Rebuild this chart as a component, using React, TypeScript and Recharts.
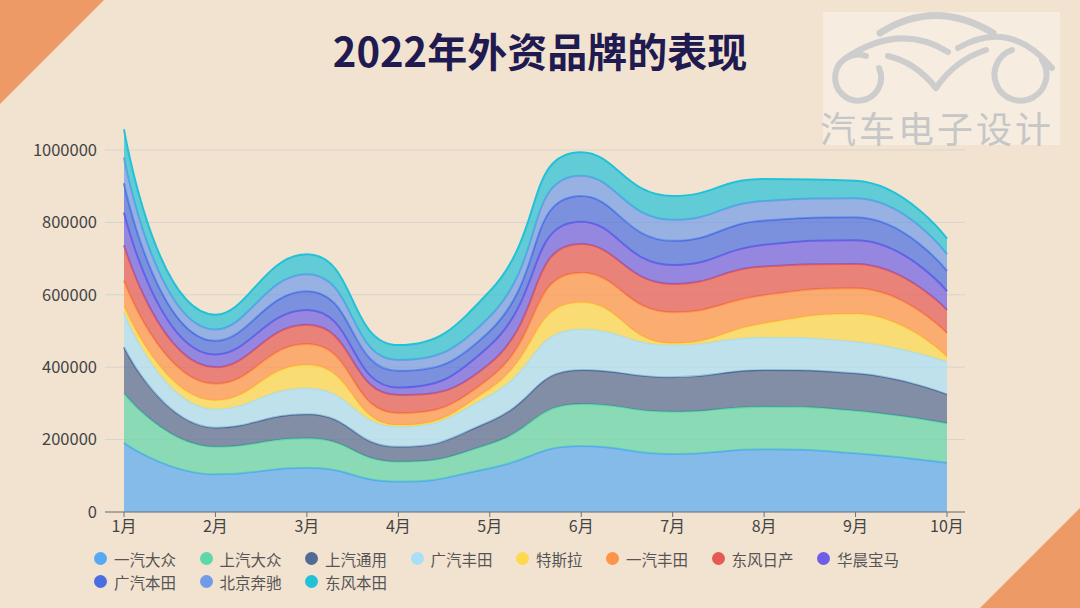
import React from 'react';
import { AreaChart, Area, XAxis, YAxis, CartesianGrid } from 'recharts';

const months = ['1月', '2月', '3月', '4月', '5月', '6月', '7月', '8月', '9月', '10月'];
const seriesNames = ['一汽大众', '上汽大众', '上汽通用', '广汽丰田', '特斯拉', '一汽丰田', '东风日产', '华晨宝马', '广汽本田', '北京奔驰', '东风本田'];
const seriesColors = ['#56a9f2', '#5ed7a9', '#536a94', '#a9dff8', '#fdd94e', '#fd9448', '#e65a55', '#6e5ee6', '#4a6ee2', '#6f9be9', '#23c1d8'];

const faw_vw = [191000, 104000, 122000, 84000, 121000, 182000, 160000, 173000, 162000, 136000];
const saic_vw = [137000, 76000, 82000, 55000, 67000, 116000, 117000, 118000, 118000, 109000];
const saic_gm = [127000, 53000, 66000, 41000, 62000, 94000, 95000, 101000, 103000, 80000];
const gac_toyota = [96000, 51000, 72000, 56000, 72000, 113000, 89000, 90000, 87000, 90000];
const tesla = [18000, 24000, 64000, 4000, 18000, 74000, 5000, 39000, 77000, 14000];
const faw_toyota = [70000, 46000, 58000, 33000, 30000, 82000, 86000, 78000, 71000, 65000];
const df_nissan = [98000, 46000, 53000, 50000, 40000, 79000, 78000, 79000, 67000, 64000];
const bmw_brilliance = [90000, 35000, 41000, 21000, 50000, 62000, 52000, 60000, 66000, 52000];
const gac_honda = [81000, 38000, 52000, 46000, 40000, 71000, 67000, 67000, 63000, 56000];
const beijing_benz = [71000, 31000, 47000, 30000, 40000, 56000, 58000, 54000, 53000, 46000];
const df_honda = [78000, 41000, 55000, 41000, 70000, 65000, 66000, 61000, 48000, 43000];

const seriesValues = [faw_vw, saic_vw, saic_gm, gac_toyota, tesla, faw_toyota, df_nissan, bmw_brilliance, gac_honda, beijing_benz, df_honda];
const yTicks = [0, 200000, 400000, 600000, 800000, 1000000];

const data = months.map((m, i) => {
  const row: Record<string, any> = { month: m };
  seriesNames.forEach((n, k) => {
    row[n] = seriesValues[k][i];
  });
  return row;
});

const SMOOTH = 0.5;
function echartsSmooth(context: any) {
  let pts: number[][] = [];
  let line: any;
  const draw = () => {
    const n = pts.length;
    if (!n) return;
    const x0 = pts[0][0];
    const y0 = pts[0][1];
    if (line) context.lineTo(x0, y0);
    else context.moveTo(x0, y0);
    let cpx0 = x0, cpy0 = y0, prevX = x0, prevY = y0;
    for (let k = 1; k < n; k++) {
      const x = pts[k][0];
      const y = pts[k][1];
      let cpx1 = x, cpy1 = y, nextCpx0 = x, nextCpy0 = y;
      if (k + 1 < n) {
        const nextX = pts[k + 1][0];
        const nextY = pts[k + 1][1];
        let vx = nextX - prevX;
        let vy = nextY - prevY;
        const lenPrev = Math.hypot(x - prevX, y - prevY);
        const lenNext = Math.hypot(nextX - x, nextY - y);
        const ratio = lenNext / (lenNext + lenPrev);
        nextCpx0 = x + vx * SMOOTH * ratio;
        nextCpy0 = y + vy * SMOOTH * ratio;
        nextCpx0 = Math.min(nextCpx0, Math.max(nextX, x));
        nextCpy0 = Math.min(nextCpy0, Math.max(nextY, y));
        nextCpx0 = Math.max(nextCpx0, Math.min(nextX, x));
        nextCpy0 = Math.max(nextCpy0, Math.min(nextY, y));
        vx = nextCpx0 - x;
        vy = nextCpy0 - y;
        cpx1 = x - (vx * lenPrev) / lenNext;
        cpy1 = y - (vy * lenPrev) / lenNext;
        cpx1 = Math.min(cpx1, Math.max(prevX, x));
        cpy1 = Math.min(cpy1, Math.max(prevY, y));
        cpx1 = Math.max(cpx1, Math.min(prevX, x));
        cpy1 = Math.max(cpy1, Math.min(prevY, y));
        vx = x - cpx1;
        vy = y - cpy1;
        nextCpx0 = x + (vx * lenNext) / lenPrev;
        nextCpy0 = y + (vy * lenNext) / lenPrev;
      }
      context.bezierCurveTo(cpx0, cpy0, cpx1, cpy1, x, y);
      cpx0 = nextCpx0;
      cpy0 = nextCpy0;
      prevX = x;
      prevY = y;
    }
  };
  return {
    areaStart() { line = 0; },
    areaEnd() { line = NaN; },
    lineStart() { pts = []; },
    point(x: number, y: number) { pts.push([+x, +y]); },
    lineEnd() {
      draw();
      if (line || (line !== 0 && pts.length === 1)) context.closePath();
      line = 1 - line;
    },
  };
}

const FONT = '"Noto Sans CJK SC", "Noto Sans", sans-serif';

function Decorations() {
  const g = '#cdcdcd';
  return (
    <svg width={1080} height={608} style={{ position: 'absolute', left: 0, top: 0 }}>
      <polygon points="0,0 104,0 0,104" fill="#ee9a66" />
      <polygon points="1080,508 1080,608 980,608" fill="#ee9a66" />
      <rect x={823} y={12} width={237} height={133} fill="#f6ece0" />
      <g fill="none" stroke={g} strokeWidth={6} strokeLinecap="round">
        <path d="M 879 68 A 23 23 0 1 1 866 56" />
        <path d="M 1042 60 A 26 26 0 1 1 1012 50" />
        <path d="M 880 33 Q 935 -2 993 33" strokeWidth={7} />
        <path d="M 846 58 Q 900 22 948 52" />
        <path d="M 958 48 Q 1010 18 1052 68" />
        <path d="M 888 56 Q 915 62 936 88" />
        <path d="M 936 88 Q 955 60 986 50" />
      </g>
      <text x={820} y={143} fontFamily={FONT} fontSize={36} fill="#c6c6c6" letterSpacing={3}>汽车电子设计</text>
      <text x={540} y={67} textAnchor="middle" fontFamily={FONT} fontSize={40} fontWeight={700} fill="#1f1a4f">2022年外资品牌的表现</text>
    </svg>
  );
}

function LegendBox() {
  return (
    <div style={{ position: 'absolute', left: 94, top: 547, width: 900, display: 'flex', flexWrap: 'wrap', fontFamily: FONT }}>
      {seriesNames.map((n, i) => (
        <div key={n} style={{ height: 23, display: 'flex', alignItems: 'center', marginRight: 23.5 }}>
          <span style={{ width: 13, height: 13, borderRadius: 7, background: seriesColors[i], display: 'inline-block', marginRight: 7, flexShrink: 0 }} />
          <span style={{ fontSize: 15.5, color: '#555', whiteSpace: 'nowrap' }}>{n}</span>
        </div>
      ))}
    </div>
  );
}

export default function App() {
  return (
    <div style={{ position: 'absolute', left: 0, top: 0, width: 1080, height: 608, background: '#f2e3d1', overflow: 'hidden', fontFamily: FONT }}>
      <Decorations />
      <div style={{ position: 'absolute', left: 0, top: 0 }}>
        <AreaChart width={1080} height={608} data={data} margin={{ top: 113.8, right: 115, bottom: 66, left: 45 }}>
          <CartesianGrid vertical={false} stroke="#d8d3cb" horizontalValues={yTicks} />
          <XAxis
            dataKey="month"
            padding={{ left: 19, right: 18 }}
            axisLine={{ stroke: '#6e7079' }}
            tickLine={{ stroke: '#6e7079' }}
            tickSize={5}
            tickMargin={4}
            tick={{ fill: '#444', fontSize: 16, fontFamily: FONT }}
            interval={0}
          />
          <YAxis
            width={60}
            domain={[0, 1100000]}
            ticks={yTicks}
            axisLine={false}
            tickLine={false}
            tick={{ fill: '#444', fontSize: 16.5, fontFamily: FONT }}
          />
          {seriesNames.map((n, i) => (
            <Area
              key={n}
              dataKey={n}
              stackId="1"
              type={echartsSmooth as any}
              stroke={seriesColors[i]}
              strokeWidth={2}
              fill={seriesColors[i]}
              fillOpacity={0.7}
              dot={false}
              activeDot={false}
              isAnimationActive={false}
            />
          ))}
        </AreaChart>
      </div>
      <LegendBox />
    </div>
  );
}
